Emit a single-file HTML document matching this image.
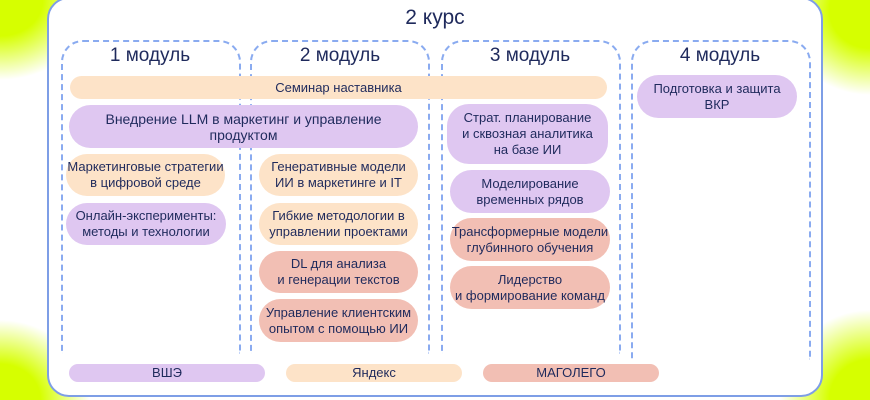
<!DOCTYPE html>
<html style="width:870px;height:400px;overflow:hidden"><head><meta charset="utf-8"><style>
html,body{margin:0;width:870px;height:400px;overflow:hidden}
body{position:relative;font-family:"Liberation Sans","DejaVu Sans",sans-serif;color:#1f2a5c;
background:
radial-gradient(ellipse 95px 80px at 0px 0px,#d6ff00 45%,rgba(214,255,0,0) 100%),
radial-gradient(ellipse 90px 80px at 0px 400px,#d6ff00 45%,rgba(214,255,0,0) 100%),
radial-gradient(ellipse 90px 85px at 870px 10px,#d6ff00 45%,rgba(214,255,0,0) 100%),
radial-gradient(ellipse 90px 90px at 870px 400px,#d6ff00 45%,rgba(214,255,0,0) 100%),
#fff}
.outer{position:absolute;left:47px;top:-3px;width:776px;height:400px;box-sizing:border-box;border:2.5px solid #7e9ee6;border-radius:22px;background:#fff}
.col{position:absolute;top:40px;width:176px;height:312px;border:2px dashed #8aabf0;border-bottom:none;border-radius:22px 22px 0 0}
.h{position:absolute;top:45px;width:180px;text-align:center;font-size:19px}
.p{position:absolute;display:flex;align-items:center;justify-content:center;text-align:center;font-size:13px;line-height:16px;border-radius:22px}
.pe{background:#fde3c8}.la{background:#dfc7f1}.sa{background:#f2bfb4}
</style></head><body>
<div class="outer"></div>
<div style="position:absolute;left:0;width:870px;top:6px;text-align:center;font-size:21px">2 курс</div>
<div class="col" style="left:61px"></div>
<div class="col" style="left:250px"></div>
<div class="col" style="left:441px"></div>
<div class="col" style="left:631px;height:318px"></div>
<div class="h" style="left:60px">1 модуль</div>
<div class="h" style="left:250px">2 модуль</div>
<div class="h" style="left:440px">3 модуль</div>
<div class="h" style="left:630px">4 модуль</div>
<div class="p pe" style="left:70px;top:76px;width:537px;height:23px">Семинар наставника</div>
<div class="p la" style="left:69px;top:105px;width:349px;height:43px;font-size:14px">Внедрение LLM в маркетинг и управление<br>продуктом</div>
<div class="p pe" style="left:66px;top:154px;width:159px;height:42px">Маркетинговые стратегии<br>в цифровой среде</div>
<div class="p la" style="left:66px;top:203px;width:160px;height:42px">Онлайн-эксперименты:<br>методы и технологии</div>
<div class="p pe" style="left:259px;top:154px;width:159px;height:42px">Генеративные модели<br>ИИ в маркетинге и IT</div>
<div class="p pe" style="left:259px;top:203px;width:159px;height:42px">Гибкие методологии в<br>управлении проектами</div>
<div class="p sa" style="left:259px;top:251px;width:159px;height:42px">DL для анализа<br>и генерации текстов</div>
<div class="p sa" style="left:259px;top:299px;width:159px;height:43px">Управление клиентским<br>опытом с помощью ИИ</div>
<div class="p la" style="left:447px;top:104px;width:161px;height:60px">Страт. планирование<br>и сквозная аналитика<br>на базе ИИ</div>
<div class="p la" style="left:450px;top:170px;width:160px;height:43px">Моделирование<br>временных рядов</div>
<div class="p sa" style="left:450px;top:218px;width:160px;height:43px">Трансформерные модели<br>глубинного обучения</div>
<div class="p sa" style="left:450px;top:266px;width:160px;height:43px">Лидерство<br>и формирование команд</div>
<div class="p la" style="left:637px;top:75px;width:160px;height:43px">Подготовка и защита<br>ВКР</div>
<div class="p la" style="left:69px;top:364px;width:196px;height:18px;border-radius:9px">ВШЭ</div>
<div class="p pe" style="left:286px;top:364px;width:176px;height:18px;border-radius:9px">Яндекс</div>
<div class="p sa" style="left:483px;top:364px;width:176px;height:18px;border-radius:9px">МАГОЛЕГО</div>
</body></html>
